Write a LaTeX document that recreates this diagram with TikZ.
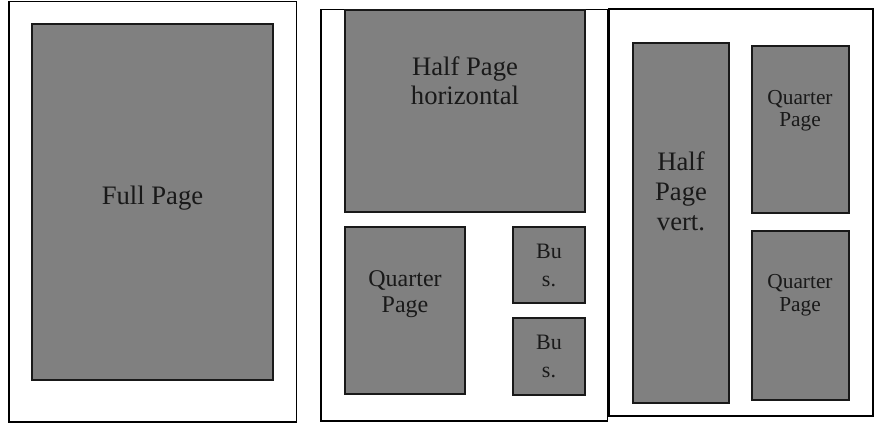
\documentclass[tikz,border=0pt]{standalone}
\usepackage{fontspec}
\setmainfont{Liberation Serif}

\tikzset{
  page/.style={draw=black, line width=0.9pt, fill=white},
  ad/.style={draw=black!90, line width=1.1pt, fill=black!50},
  adtext/.style={anchor=base, align=center, inner sep=0pt, text=black!90}
}

\begin{document}
\begin{tikzpicture}[x=0.75pt, y=-0.75pt]

\path [use as bounding box] (0,0) rectangle (879,423);

% PAGES
\draw [page] (9,1.5) rectangle (296.5,422);
\draw [page] (321,9.5) rectangle (607.5,421);
\draw [page] (609,9) rectangle (873,416);

% ADS
\filldraw [ad] (32,24) rectangle (273,380);
\filldraw [ad] (345,10) rectangle (585,212);
\filldraw [ad] (345,227) rectangle (465,394);
\filldraw [ad] (513,227) rectangle (585,303);
\filldraw [ad] (513,318) rectangle (585,395);
\filldraw [ad] (633,43) rectangle (729,403);
\filldraw [ad] (752,46) rectangle (849,213);
\filldraw [ad] (752,231) rectangle (849,400);

% LABELS (base = last line)
\node [adtext, font=\fontsize{20}{22}\selectfont] (full) at (152.5,205) {Full Page};
\node [adtext, font=\fontsize{20}{21.75}\selectfont] (halfh) at (465,105) {Half Page\\horizontal};
\node [adtext, font=\fontsize{18}{19.5}\selectfont] (quarterl) at (405,313) {Quarter\\Page};
\node [adtext, font=\fontsize{16.5}{21}\selectfont] (busa) at (549,287) {Bu\\s.};
\node [adtext, font=\fontsize{16.5}{21}\selectfont] (busb) at (549,378) {Bu\\s.};
\node [adtext, font=\fontsize{20}{22.5}\selectfont] (halfv) at (681,231) {Half\\Page\\vert.};
\node [adtext, font=\fontsize{16}{17}\selectfont] (quartera) at (800,127) {Quarter\\Page};
\node [adtext, font=\fontsize{16}{17.5}\selectfont] (quarterb) at (800,312) {Quarter\\Page};

\end{tikzpicture}
\end{document}
